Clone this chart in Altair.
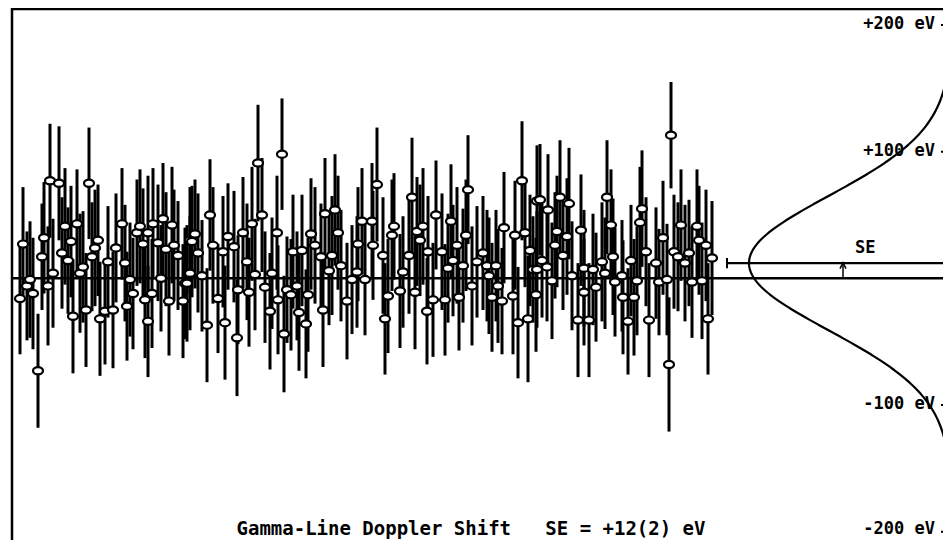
import math
import altair as alt
import pandas as pd

# ---- data -----------------------------------------------------------------
# run position (arbitrary spectrum index along the time axis)
X_RUN = [
    8, 11, 15, 18, 21, 26, 30, 32, 36, 38,
    41, 47, 50, 53, 56, 59, 61, 65, 68, 71,
    74, 77, 80, 83, 86, 88, 93, 96, 101, 104,
    110, 113, 115, 118, 121, 125, 128, 131, 133, 136,
    136, 140, 141, 146, 149, 151, 154, 157, 160, 162,
    166, 171, 173, 175, 178, 178, 180, 183, 186, 190,
    195, 198, 201, 206, 211, 213, 216, 222, 225, 226,
    231, 235, 237, 240, 243, 246, 250, 253, 258, 260,
    265, 266, 270, 272, 275, 279, 281, 285, 287, 290,
    294, 296, 299, 303, 309, 311, 313, 317, 320, 323,
    326, 329, 335, 340, 345, 346, 350, 353, 360, 361,
    365, 371, 373, 376, 380, 382, 388, 391, 397, 400,
    403, 405, 408, 411, 415, 416, 421, 424, 430, 433,
    436, 439, 441, 445, 447, 451, 454, 456, 460, 465,
    471, 475, 477, 480, 484, 486, 490, 492, 501, 503,
    506, 510, 513, 516, 518, 521, 524, 525, 525, 528,
    530, 535, 536, 540, 543, 545, 548, 551, 555, 557,
    560, 566, 569, 572, 572, 577, 581, 584, 590, 593,
    595, 599, 601, 603, 610, 611, 616, 619, 622, 625,
    628, 630, 634, 637, 644, 647, 651, 655, 657, 659,
    662, 666, 669, 673, 677, 680, 685, 687, 690, 694,
    696, 700,
]
# Doppler shift of each spectrum (eV)
SHIFT_EV = [
    -16, 27, -6, -1, -12, -73, 17, 32, -6, 77,
    4, 75, 20, 41, 14, 29, -30, 43, 4, 9,
    -25, 75, 17, 24, 30, -32, -26, 13, -25, 24,
    43, 12, -22, -1, -12, 36, 41, 27, -17, -34,
    36, -12, 43, 28, 0, 47, 23, -18, 42, 26,
    18, -18, -4, -4, 30, 4, 29, 35, 20, 2,
    -37, 50, 26, -16, 21, -35, 33, 25, -47, -9,
    36, 13, -11, 43, 3, 91, 50, -7, -26, 4,
    36, -17, 98, -44, -9, -13, 21, -6, -27, 22,
    -36, -13, 35, 26, 17, -25, 51, 6, 18, 54,
    36, 10, -18, -1, 5, 27, 45, -1, 45, 26,
    74, 18, -32, -14, 34, 41, -10, 5, 18, 64,
    -11, 37, 30, 41, -26, 21, -17, 50, 21, -17,
    8, 45, 14, 26, -15, 10, 34, 70, -6, 13,
    20, 10, 2, -15, 10, -6, -18, 40, -14, 34,
    -35, 77, 36, -32, 22, 7, -13, 61, 7, 62,
    14, 9, 54, -2, 26, 37, 64, 18, 33, 59,
    2, -33, 38, 8, -11, -33, 7, -7, 13, 4,
    64, 42, 17, -3, 2, -15, -34, 14, -15, -2,
    44, 55, 21, -33, 12, -3, 32, -1, -68, 113,
    21, 17, 42, 12, 20, -3, 41, 30, -2, 26,
    -32, 16,
]
# one-sigma error of each spectrum (eV)
ERR_EV = [
    44, 45, 43, 46, 44, 45, 42, 44, 47, 45,
    43, 45, 44, 46, 42, 44, 45, 43, 47, 44,
    45, 44, 43, 46, 44, 45, 42, 44, 46, 43,
    44, 46, 43, 45, 44, 42, 45, 44, 46, 44,
    45, 43, 44, 46, 42, 44, 45, 43, 46, 44,
    43, 45, 44, 46, 42, 45, 44, 43, 47, 44,
    45, 44, 46, 43, 44, 45, 42, 44, 46, 43,
    44, 46, 43, 45, 44, 46, 45, 44, 46, 44,
    45, 43, 44, 46, 42, 44, 45, 43, 46, 44,
    43, 45, 44, 46, 42, 45, 44, 43, 47, 44,
    45, 44, 46, 43, 44, 45, 42, 44, 46, 43,
    45, 46, 44, 45, 44, 42, 45, 44, 46, 47,
    45, 43, 44, 46, 42, 44, 45, 43, 46, 44,
    43, 45, 44, 46, 42, 45, 44, 43, 47, 44,
    45, 44, 46, 43, 44, 45, 42, 44, 46, 43,
    44, 47, 43, 50, 44, 42, 45, 44, 46, 44,
    45, 43, 44, 46, 42, 44, 45, 43, 46, 44,
    43, 45, 44, 46, 42, 45, 44, 43, 47, 44,
    45, 44, 46, 43, 44, 45, 42, 44, 46, 43,
    44, 46, 43, 45, 44, 42, 45, 44, 53, 42,
    45, 43, 44, 46, 42, 44, 45, 43, 46, 44,
    44, 45,
]

SE_EV = 12          # fitted shift
SE_SIGMA = 53       # width of the distribution curve (eV)
CURVE_AMP = 202     # height of the distribution curve (in run units)

LABEL_EV = [200, 100, -100, -200]
LABEL_TEXT = ["+200 eV", "+100 eV", "-100 eV", "-200 eV"]
LABEL_DY = [-1, -1, -1, -3]
CAPTION = "Gamma-Line Doppler Shift\u00a0\u00a0\u00a0SE = +12(2) eV"

X_RIGHT = 939       # right end of the lines (run units)
X_MAX = 931         # visible width of the plot (run units)
Y_MIN, Y_MAX = -206.6, 213.4

n = min(len(X_RUN), len(SHIFT_EV), len(ERR_EV))
pts = pd.DataFrame({
    "run": X_RUN[:n],
    "shift": SHIFT_EV[:n],
    "lo": [s - e for s, e in zip(SHIFT_EV[:n], ERR_EV[:n])],
    "hi": [s + e for s, e in zip(SHIFT_EV[:n], ERR_EV[:n])],
})

xs = alt.Scale(domain=[0, X_MAX], nice=False, zero=False)
ys = alt.Scale(domain=[Y_MIN, Y_MAX], nice=False, zero=False)


def X(f):
    return alt.X(f, type="quantitative", scale=xs, axis=None)


def Y(f):
    return alt.Y(f, type="quantitative", scale=ys, axis=None)


def hrule(y, x0, x1, w):
    df = pd.DataFrame({"x": [x0], "x2": [x1], "y": [y]})
    return alt.Chart(df).mark_rule(color="black", strokeWidth=w).encode(
        x=X("x"), x2="x2", y=Y("y"))


def vrule(x, y0, y1, w):
    df = pd.DataFrame({"x": [x], "y": [y0], "y2": [y1]})
    return alt.Chart(df).mark_rule(color="black", strokeWidth=w).encode(
        x=X("x"), y=Y("y"), y2="y2")


# frame
left_border = vrule(0, Y_MIN, Y_MAX, 2.5)
top_border = hrule(212.6, 0, X_RIGHT, 2.5)
zero_line = hrule(0, 0, X_RIGHT, 2.5)

bars = alt.Chart(pts).mark_rule(color="black", strokeWidth=3).encode(
    x=X("run"), y=Y("lo"), y2="hi")

ellipse = "M-1,0A1,0.72,0,1,1,1,0A1,0.72,0,1,1,-1,0Z"
markers = alt.Chart(pts).mark_point(
    shape=ellipse, filled=True, fill="white", stroke="black",
    strokeWidth=2.2, size=100, opacity=1).encode(x=X("run"), y=Y("shift"))

# distribution curve on the right
cy = list(range(-206, 214))
curve = pd.DataFrame({
    "ev": cy,
    "cx": [X_RIGHT - CURVE_AMP * math.exp(-((v - SE_EV) ** 2) / (2 * SE_SIGMA ** 2)) for v in cy],
    "o": list(range(len(cy))),
})
curve_line = alt.Chart(curve).mark_line(color="black", strokeWidth=2.2).encode(
    x=X("cx"), y=Y("ev"), order="o:Q")

# SE marker line
se_line = hrule(SE_EV, 715, X_RIGHT, 2.2)
se_cap = vrule(715, SE_EV - 4, SE_EV + 4, 2)
arrow_shaft = vrule(831, 0, SE_EV, 1.5)
arrow_head = alt.Chart(pd.DataFrame({"x": [831], "y": [SE_EV - 2]})).mark_point(
    shape="M-1,1L0,-1L1,1", filled=False, stroke="black", strokeWidth=1.5,
    size=36, opacity=1).encode(x=X("x"), y=Y("y"))

font = "DejaVu Sans Mono"
se_text = alt.Chart(pd.DataFrame({"x": [843], "y": [24], "t": ["SE"]})).mark_text(
    align="left", baseline="middle", font=font, fontWeight="bold", fontSize=17,
    color="black").encode(x=X("x"), y=Y("y"), text="t:N")

labels_df = pd.DataFrame({"x": [923] * 4, "y": LABEL_EV, "t": LABEL_TEXT,
                          "dx0": [929] * 4, "dx1": [X_RIGHT] * 4})
label_layers = []
for ev, txt, dy in zip(LABEL_EV, LABEL_TEXT, LABEL_DY):
    label_layers.append(
        alt.Chart(pd.DataFrame({"x": [923], "y": [ev], "t": [txt]})).mark_text(
            align="right", baseline="middle", font=font, fontWeight="bold",
            fontSize=17, color="black", dy=dy).encode(x=X("x"), y=Y("y"), text="t:N"))
dashes = alt.Chart(labels_df).mark_rule(color="black", strokeWidth=2).encode(
    x=X("dx0"), x2="dx1", y=Y("y"))

caption = alt.Chart(pd.DataFrame({"x": [459], "y": [-202.5], "t": [CAPTION]})).mark_text(
    align="center", baseline="alphabetic", font=font, fontWeight="bold", fontSize=19,
    color="black").encode(x=X("x"), y=Y("y"), text="t:N")

chart = alt.layer(
    left_border, top_border, zero_line, bars, markers, curve_line,
    se_line, se_cap, arrow_shaft, arrow_head, se_text, *label_layers, dashes, caption,
).properties(
    width=931, height=532,
    padding={"left": 4, "top": 0, "right": 0, "bottom": 0},
    autosize=alt.AutoSizeParams(type="none"),
    background="white",
).configure_view(stroke=None)

chart.save("out.html", embed_options={"renderer": "svg", "actions": False})
